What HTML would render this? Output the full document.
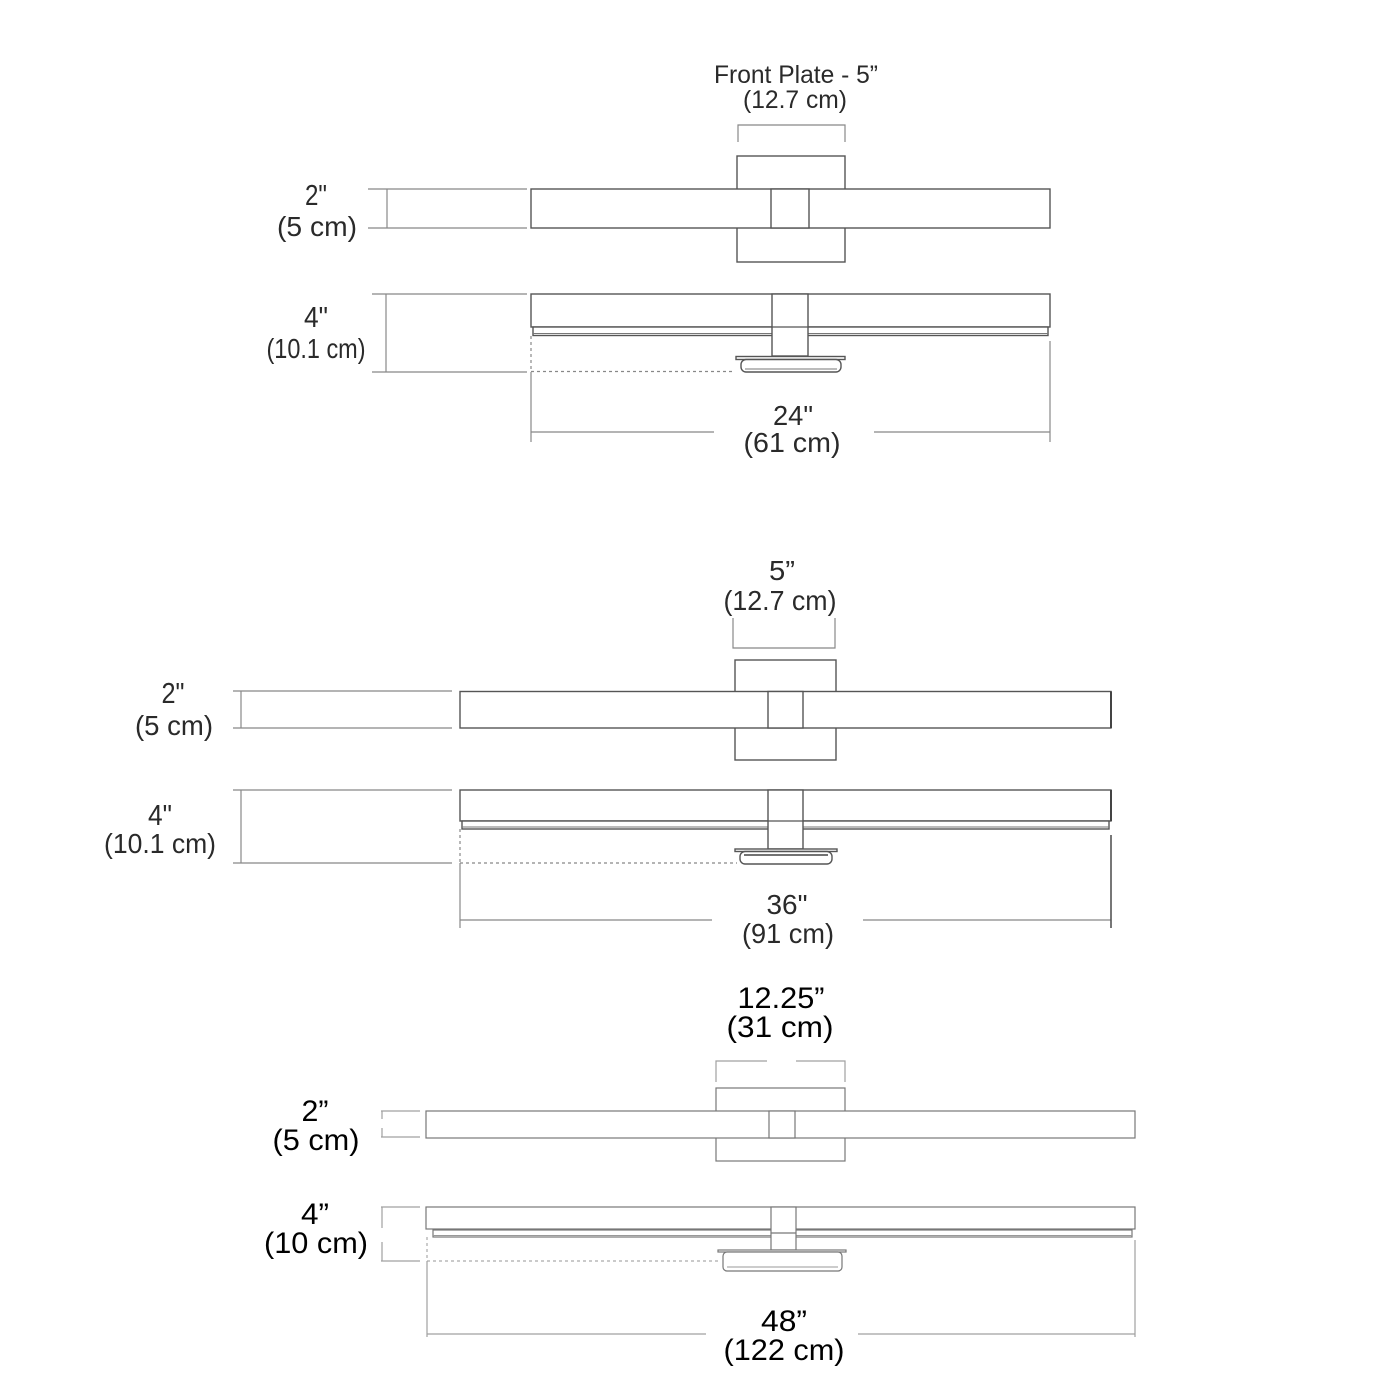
<!DOCTYPE html>
<html>
<head>
<meta charset="utf-8">
<style>
  html,body{margin:0;padding:0;background:#fff;}
  svg{display:block;}
  .t{font-family:"Liberation Sans",sans-serif;fill:#2a2a2a;}
  .b{font-family:"Liberation Sans",sans-serif;fill:#000;}
  .o{fill:#fff;stroke:#555;stroke-width:1.4;}
  .d{fill:none;stroke:#888;stroke-width:1.2;}
  .o2{fill:#fff;stroke:#777;stroke-width:1.2;}
  .d2{fill:none;stroke:#a0a0a0;stroke-width:1.2;}
  .dash{fill:none;stroke:#888;stroke-width:1.2;stroke-dasharray:3 3;}
  .dash2{fill:none;stroke:#aaa;stroke-width:1.2;stroke-dasharray:3 3;}
</style>
</head>
<body>
<svg width="1400" height="1400" viewBox="0 0 1400 1400" xmlns="http://www.w3.org/2000/svg">
<rect width="1400" height="1400" fill="#fff"/>

<!-- ================= TOP GROUP (24") ================= -->
<text class="t" x="796" y="83" font-size="25" text-anchor="middle" textLength="164" lengthAdjust="spacingAndGlyphs">Front Plate - 5”</text>
<text class="t" x="795" y="108" font-size="25" text-anchor="middle" textLength="104" lengthAdjust="spacingAndGlyphs">(12.7 cm)</text>
<path class="d" d="M738,142 V125 H845 V142"/>

<!-- front view -->
<rect class="o" x="737" y="156" width="108" height="106"/>
<rect class="o" x="531" y="189" width="519" height="39"/>
<rect class="o" x="771" y="189" width="38" height="39"/>
<path class="d" d="M368,189 H527 M368,228 H527 M387,189 V228"/>
<text class="t" x="316" y="205" font-size="29" text-anchor="middle" textLength="22" lengthAdjust="spacingAndGlyphs">2"</text>
<text class="t" x="317" y="236" font-size="28" text-anchor="middle" textLength="80" lengthAdjust="spacingAndGlyphs">(5 cm)</text>

<!-- side view -->
<rect class="o" x="531" y="294" width="519" height="33"/>
<rect class="o" x="533" y="327" width="515" height="8.5"/>
<line x1="533" y1="333.5" x2="1048" y2="333.5" stroke="#777" stroke-width="1"/>
<rect class="o" x="772" y="294" width="36" height="62"/>
<line x1="772" y1="327" x2="808" y2="327" stroke="#555" stroke-width="1.2"/>
<rect class="o" x="736" y="356.5" width="109" height="3"/>
<rect class="o" x="741" y="359.5" width="100" height="12.5" rx="5"/>
<line x1="745" y1="369" x2="837" y2="369" stroke="#777" stroke-width="1"/>
<path class="d" d="M372,294 H527 M372,372 H527 M386,294 V372"/>
<path class="dash" d="M531,371.5 H733 M531,336 V371"/>
<path class="d" d="M531,372 V442 M1050,341 V442 M531,432 H714 M874,432 H1050"/>
<text class="t" x="316" y="327" font-size="29" text-anchor="middle" textLength="24" lengthAdjust="spacingAndGlyphs">4"</text>
<text class="t" x="316" y="358" font-size="28" text-anchor="middle" textLength="99" lengthAdjust="spacingAndGlyphs">(10.1 cm)</text>
<text class="t" x="793" y="425" font-size="28" text-anchor="middle" textLength="40" lengthAdjust="spacingAndGlyphs">24"</text>
<text class="t" x="792" y="452" font-size="28" text-anchor="middle" textLength="97" lengthAdjust="spacingAndGlyphs">(61 cm)</text>

<!-- ================= MIDDLE GROUP (36") ================= -->
<text class="t" x="782" y="580" font-size="28" text-anchor="middle" textLength="26" lengthAdjust="spacingAndGlyphs">5”</text>
<text class="t" x="780" y="610" font-size="28" text-anchor="middle" textLength="113" lengthAdjust="spacingAndGlyphs">(12.7 cm)</text>
<path class="d" d="M733,618 V648 H835 V618"/>

<!-- front view -->
<rect class="o" x="735" y="660" width="101" height="100"/>
<rect class="o" x="460" y="691.5" width="651" height="36.5"/>
<line x1="1111" y1="691.5" x2="1111" y2="728" stroke="#444" stroke-width="2"/>
<rect class="o" x="768" y="691.5" width="35" height="36.5"/>
<path class="d" d="M233,691 H452 M233,728 H452 M241,691 V728"/>
<text class="t" x="173" y="703" font-size="29" text-anchor="middle" textLength="23" lengthAdjust="spacingAndGlyphs">2"</text>
<text class="t" x="174" y="735" font-size="28" text-anchor="middle" textLength="78" lengthAdjust="spacingAndGlyphs">(5 cm)</text>

<!-- side view -->
<rect class="o" x="460" y="790" width="651" height="31"/>
<line x1="1111" y1="790" x2="1111" y2="821" stroke="#444" stroke-width="2"/>
<rect class="o" x="462" y="821" width="647" height="8"/>
<line x1="462" y1="827" x2="1109" y2="827" stroke="#777" stroke-width="1"/>
<rect class="o" x="768" y="790" width="35" height="59"/>
<line x1="768" y1="821" x2="803" y2="821" stroke="#555" stroke-width="1.2"/>
<rect class="o" x="735" y="849" width="102" height="2.5" fill="#555"/>
<rect class="o" x="740" y="851.5" width="92" height="12.5" rx="5"/>
<line x1="744" y1="855" x2="828" y2="855" stroke="#444" stroke-width="1.5"/>
<path class="d" d="M233,790 H452 M233,863 H452 M241,790 V863"/>
<path class="dash" d="M460,863 H737 M460,829 V863"/>
<path class="d" d="M460,863 V928 M460,920 H712 M863,920 H1111"/>
<line x1="1111" y1="835" x2="1111" y2="928" stroke="#555" stroke-width="1.6"/>
<text class="t" x="160" y="825" font-size="29" text-anchor="middle" textLength="24" lengthAdjust="spacingAndGlyphs">4"</text>
<text class="t" x="160" y="853" font-size="28" text-anchor="middle" textLength="112" lengthAdjust="spacingAndGlyphs">(10.1 cm)</text>
<text class="t" x="787" y="914" font-size="28" text-anchor="middle" textLength="41" lengthAdjust="spacingAndGlyphs">36"</text>
<text class="t" x="788" y="943" font-size="28" text-anchor="middle" textLength="92" lengthAdjust="spacingAndGlyphs">(91 cm)</text>

<!-- ================= BOTTOM GROUP (48") ================= -->
<text class="b" x="781" y="1008" font-size="30" text-anchor="middle" textLength="87" lengthAdjust="spacingAndGlyphs">12.25”</text>
<text class="b" x="780" y="1037" font-size="30" text-anchor="middle" textLength="107" lengthAdjust="spacingAndGlyphs">(31 cm)</text>
<path class="d2" d="M716,1082 V1061 H767 M796,1061 H845 V1082"/>

<!-- front view -->
<rect class="o2" x="716" y="1088" width="129" height="73"/>
<rect class="o2" x="426" y="1111" width="709" height="27"/>
<rect class="o2" x="769" y="1111" width="26" height="27"/>
<path class="d2" d="M381,1111 H420 M381,1137 H420 M382,1111 V1119 M382,1128 V1137"/>
<text class="b" x="315" y="1121" font-size="30" text-anchor="middle" textLength="27" lengthAdjust="spacingAndGlyphs">2”</text>
<text class="b" x="316" y="1150" font-size="30" text-anchor="middle" textLength="87" lengthAdjust="spacingAndGlyphs">(5 cm)</text>

<!-- side view -->
<rect class="o2" x="426" y="1207" width="709" height="22"/>
<rect class="o2" x="433" y="1230" width="699" height="7"/>
<line x1="433" y1="1235.5" x2="1132" y2="1235.5" stroke="#999" stroke-width="1"/>
<rect class="o2" x="771" y="1207" width="25" height="43"/>
<line x1="771" y1="1233" x2="796" y2="1233" stroke="#777" stroke-width="1.2"/>
<rect class="o2" x="718" y="1250" width="128" height="2"/>
<rect class="o2" x="723" y="1252" width="119" height="19" rx="4"/>
<line x1="727" y1="1267" x2="838" y2="1267" stroke="#999" stroke-width="1"/>
<path class="d2" d="M381,1207 H420 M381,1261 H420 M382,1207 V1228 M382,1242 V1261"/>
<path class="dash2" d="M427,1261 H718 M427,1237 V1261"/>
<path class="d2" d="M427,1261 V1337 M1135,1240 V1337 M427,1334 H706 M858,1334 H1135"/>
<text class="b" x="315" y="1224" font-size="30" text-anchor="middle" textLength="28" lengthAdjust="spacingAndGlyphs">4”</text>
<text class="b" x="316" y="1253" font-size="30" text-anchor="middle" textLength="104" lengthAdjust="spacingAndGlyphs">(10 cm)</text>
<text class="b" x="784" y="1331" font-size="30" text-anchor="middle" textLength="46" lengthAdjust="spacingAndGlyphs">48”</text>
<text class="b" x="784" y="1360" font-size="30" text-anchor="middle" textLength="121" lengthAdjust="spacingAndGlyphs">(122 cm)</text>

</svg>
</body>
</html>
